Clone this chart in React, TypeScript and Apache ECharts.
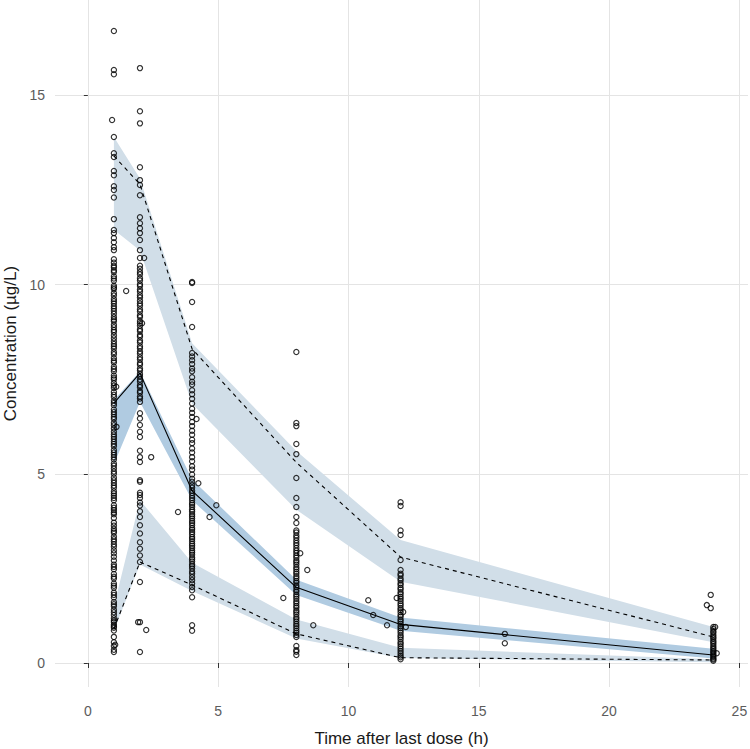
import React, { useEffect, useRef } from "react";
import * as echarts from "echarts";

// ---- Nominal time bins ----
const timeBins = [1, 2, 4, 8, 12, 24];

// ---- Observed percentile lines ----
const medianLine = [6.87, 7.66, 4.55, 2.0, 1.02, 0.21];
const upperLine = [13.4, 12.65, 8.3, 5.3, 2.8, 0.69];
const lowerLine = [0.9, 2.67, 2.06, 0.77, 0.14, 0.08];

// ---- Simulated confidence ribbons (low / high) ----
const upperBandLo = [11.45, 10.9, 6.85, 4.05, 2.15, 0.55];
const upperBandHi = [13.9, 12.8, 8.45, 5.6, 3.25, 0.95];
const medianBandLo = [5.25, 6.9, 4.3, 1.8, 0.85, 0.12];
const medianBandHi = [6.95, 7.7, 4.85, 2.2, 1.2, 0.38];
const lowerBandLo = [0.85, 2.6, 1.9, 0.65, 0.13, 0.02];
const lowerBandHi = [1.5, 4.3, 2.65, 1.15, 0.4, 0.1];

// ---- Observed concentrations at nominal times ----
const obsAt1 = [16.7, 15.67, 15.56, 13.9, 13.47, 13.37, 13.0, 12.89, 12.6, 12.5, 12.3, 11.73, 11.44, 11.36, 11.23, 11.12, 10.99, 10.91, 10.67, 10.58, 10.5, 10.45, 10.38, 10.33, 10.22, 10.16, 10.1, 9.97, 9.92, 9.88, 9.78, 9.71, 9.62, 9.56, 9.5, 9.43, 9.37, 9.3, 9.23, 9.14, 9.08, 9.03, 8.94, 8.87, 8.8, 8.75, 8.66, 8.58, 8.5, 8.43, 8.37, 8.31, 8.22, 8.16, 8.06, 7.99, 7.94, 7.83, 7.77, 7.71, 7.6, 7.54, 7.49, 7.4, 7.33, 7.27, 7.16, 7.09, 7.03, 6.93, 6.87, 6.81, 6.7, 6.63, 6.57, 6.5, 6.45, 6.35, 6.28, 6.2, 6.11, 6.04, 5.98, 5.92, 5.85, 5.79, 5.73, 5.63, 5.56, 5.5, 5.44, 5.38, 5.27, 5.21, 5.14, 5.06, 5.0, 4.9, 4.83, 4.76, 4.69, 4.63, 4.54, 4.48, 4.42, 4.36, 4.3, 4.17, 4.1, 4.04, 3.98, 3.93, 3.83, 3.71, 3.63, 3.55, 3.49, 3.44, 3.34, 3.27, 3.21, 3.14, 3.07, 2.98, 2.9, 2.81, 2.71, 2.6, 2.54, 2.48, 2.35, 2.28, 2.23, 2.1, 2.04, 1.99, 1.86, 1.8, 1.73, 1.61, 1.55, 1.5, 1.41, 1.34, 1.27, 1.18, 1.12, 1.08, 1.01, 0.97, 0.93, 0.86, 0.69, 0.55, 0.45, 0.35, 0.29];
const obsAt2 = [15.72, 14.58, 14.26, 13.1, 12.76, 12.63, 12.36, 11.78, 11.62, 11.49, 11.36, 11.18, 10.91, 10.7, 10.5, 10.42, 10.33, 10.27, 10.17, 10.11, 10.01, 9.96, 9.87, 9.81, 9.72, 9.66, 9.57, 9.5, 9.44, 9.35, 9.29, 9.19, 9.14, 9.04, 8.98, 8.91, 8.82, 8.77, 8.67, 8.62, 8.52, 8.47, 8.37, 8.32, 8.23, 8.17, 8.08, 8.02, 7.93, 7.88, 7.78, 7.73, 7.64, 7.58, 7.49, 7.43, 7.34, 7.29, 7.19, 7.14, 7.04, 6.99, 6.9, 6.6, 6.46, 6.29, 6.11, 5.97, 5.61, 5.44, 5.31, 4.83, 4.79, 4.5, 4.44, 4.36, 4.24, 4.16, 4.01, 3.86, 3.64, 3.42, 3.19, 3.02, 2.84, 2.67, 2.14, 1.08, 0.29];
const obsAt4 = [10.07, 10.04, 9.54, 8.88, 8.19, 8.1, 8.0, 7.9, 7.78, 7.71, 7.55, 7.43, 7.36, 7.21, 7.1, 6.98, 6.86, 6.72, 6.61, 6.5, 6.37, 6.26, 6.14, 6.03, 5.9, 5.81, 5.67, 5.56, 5.44, 5.33, 5.2, 5.11, 4.98, 4.87, 4.79, 4.7, 4.63, 4.55, 4.49, 4.42, 4.36, 4.3, 4.23, 4.18, 4.12, 4.05, 4.0, 3.93, 3.88, 3.82, 3.75, 3.7, 3.64, 3.57, 3.52, 3.46, 3.4, 3.33, 3.28, 3.22, 3.15, 3.1, 3.04, 2.97, 2.92, 2.86, 2.79, 2.74, 2.68, 2.61, 2.56, 2.5, 2.42, 2.36, 2.27, 2.19, 2.1, 2.01, 1.92, 1.74, 1.0, 0.85];
const obsAt8 = [8.22, 6.34, 6.26, 5.79, 5.52, 4.89, 4.36, 4.12, 3.86, 3.7, 3.5, 3.45, 3.37, 3.31, 3.24, 3.17, 3.11, 3.04, 2.97, 2.91, 2.84, 2.78, 2.71, 2.66, 2.6, 2.53, 2.48, 2.41, 2.36, 2.29, 2.24, 2.17, 2.12, 2.05, 2.0, 1.93, 1.88, 1.81, 1.76, 1.7, 1.63, 1.58, 1.51, 1.46, 1.39, 1.34, 1.28, 1.21, 1.16, 1.1, 1.03, 0.98, 0.92, 0.85, 0.8, 0.74, 0.69, 0.45, 0.34, 0.3, 0.21];
const obsAt12 = [4.25, 4.15, 3.5, 3.38, 2.72, 2.46, 2.36, 2.31, 2.23, 2.18, 2.11, 2.06, 1.99, 1.94, 1.87, 1.82, 1.75, 1.7, 1.64, 1.57, 1.52, 1.45, 1.4, 1.34, 1.27, 1.22, 1.15, 1.1, 1.04, 0.97, 0.92, 0.86, 0.8, 0.73, 0.68, 0.62, 0.55, 0.5, 0.44, 0.38, 0.32, 0.26, 0.2, 0.15, 0.1];
const obsAt24 = [0.95, 0.9, 0.84, 0.8, 0.74, 0.69, 0.65, 0.59, 0.55, 0.5, 0.45, 0.4, 0.36, 0.31, 0.28, 0.23, 0.2, 0.16, 0.12, 0.09, 0.06];

// ---- Observed concentrations at off-nominal times [time, conc] ----
const obsOffNominal: [number, number][] = [
  [0.93, 14.35], [1.09, 7.3], [1.1, 6.24], [1.05, 0.48], [1.47, 9.83],
  [2.16, 10.7], [2.08, 8.98], [2.43, 5.44], [1.93, 1.08], [2.24, 0.87],
  [3.46, 3.99], [4.93, 4.17], [4.67, 3.86], [4.24, 4.75], [4.17, 6.45],
  [7.5, 1.72], [8.15, 2.9], [8.42, 2.46], [8.65, 1.0],
  [10.76, 1.66], [10.95, 1.27], [11.48, 1.0], [11.85, 1.72], [12.1, 1.35], [12.2, 0.95],
  [16.0, 0.77], [16.0, 0.52],
  [23.9, 1.8], [23.75, 1.53], [23.9, 1.45], [24.07, 0.95], [24.13, 0.26]
];

// ---- Axis ticks ----
const xTicks = [0, 5, 10, 15, 20, 25];
const yTicks = [0, 5, 10, 15];

const FONT = "'Liberation Sans', Arial, sans-serif";

function bandSeries(lo: number[], hi: number[], color: string, name: string) {
  return {
    type: "custom",
    name,
    silent: true,
    z: 1,
    data: timeBins.map((x, i) => [x, lo[i], hi[i]]),
    encode: { x: 0, y: [1, 2] },
    renderItem: (params: any, api: any) => {
      if (params.dataIndex !== 0) return null;
      const top = timeBins.map((x, i) => api.coord([x, hi[i]]));
      const bottom = timeBins.map((x, i) => api.coord([x, lo[i]])).reverse();
      return {
        type: "polygon",
        shape: { points: top.concat(bottom) },
        style: { fill: color, stroke: null },
      };
    },
  };
}

function lineSeries(vals: number[], dashed: boolean, name: string) {
  return {
    type: "line",
    name,
    z: 4,
    silent: true,
    showSymbol: false,
    symbol: "none",
    data: timeBins.map((x, i) => [x, vals[i]]),
    lineStyle: { color: "#000", width: 1.1, type: dashed ? [4, 4] : "solid" },
  };
}

export default function App() {
  const ref = useRef<HTMLDivElement>(null);

  useEffect(() => {
    if (!ref.current) return;
    const chart = echarts.init(ref.current, undefined, { renderer: "svg" });

    const obsData: number[][] = [
      ...obsAt1.map((y) => [1, y]),
      ...obsAt2.map((y) => [2, y]),
      ...obsAt4.map((y) => [4, y]),
      ...obsAt8.map((y) => [8, y]),
      ...obsAt12.map((y) => [12, y]),
      ...obsAt24.map((y) => [24, y]),
      ...obsOffNominal,
    ];

    chart.setOption({
      animation: false,
      backgroundColor: "#fff",
      grid: { left: 55, right: 2, top: 0, bottom: 62, containLabel: false, outerBoundsMode: "none" },
      xAxis: {
        type: "value",
        min: -1.26,
        max: 25.33,
        position: "bottom",
        offset: 7,
        axisLine: { show: false },
        axisTick: { show: true, length: 5, lineStyle: { color: "#333", width: 1 }, customValues: xTicks },
        axisLabel: { customValues: xTicks, color: "#5c5c5c", fontSize: 14, margin: 10, fontFamily: FONT },
        splitLine: { show: true, lineStyle: { color: "#e4e4e4", width: 1 } },
        name: "Time after last dose (h)",
        nameLocation: "middle",
        nameGap: 36,
        nameTextStyle: { color: "#1a1a1a", fontSize: 17, fontFamily: FONT },
      },
      yAxis: {
        type: "value",
        min: -0.634,
        max: 17.52,
        axisLine: { show: false },
        axisTick: { show: true, length: 4, lineStyle: { color: "#333", width: 1 }, customValues: yTicks },
        axisLabel: { customValues: yTicks, color: "#5c5c5c", fontSize: 14, margin: 10, fontFamily: FONT },
        splitLine: { show: true, lineStyle: { color: "#e4e4e4", width: 1 } },
        name: "Concentration (µg/L)",
        nameLocation: "middle",
        nameGap: 36,
        nameRotate: 90,
        nameTextStyle: { color: "#1a1a1a", fontSize: 17, fontFamily: FONT },
      },
      series: [
        bandSeries(upperBandLo, upperBandHi, "#d1dee8", "upperCI"),
        bandSeries(lowerBandLo, lowerBandHi, "#d1dee8", "lowerCI"),
        bandSeries(medianBandLo, medianBandHi, "#b0cbe1", "medianCI"),
        {
          type: "scatter",
          name: "observed",
          z: 3,
          silent: true,
          symbol: "circle",
          symbolSize: 5.2,
          data: obsData,
          itemStyle: { color: "rgba(0,0,0,0)", borderColor: "#000", borderWidth: 1.2 },
        },
        lineSeries(medianLine, false, "median"),
        lineSeries(upperLine, true, "p95"),
        lineSeries(lowerLine, true, "p05"),
      ],
    });

    return () => chart.dispose();
  }, []);

  return (
    <div
      ref={ref}
      style={{ position: "fixed", left: 0, top: 0, width: 750, height: 749, background: "#fff" }}
    />
  );
}
